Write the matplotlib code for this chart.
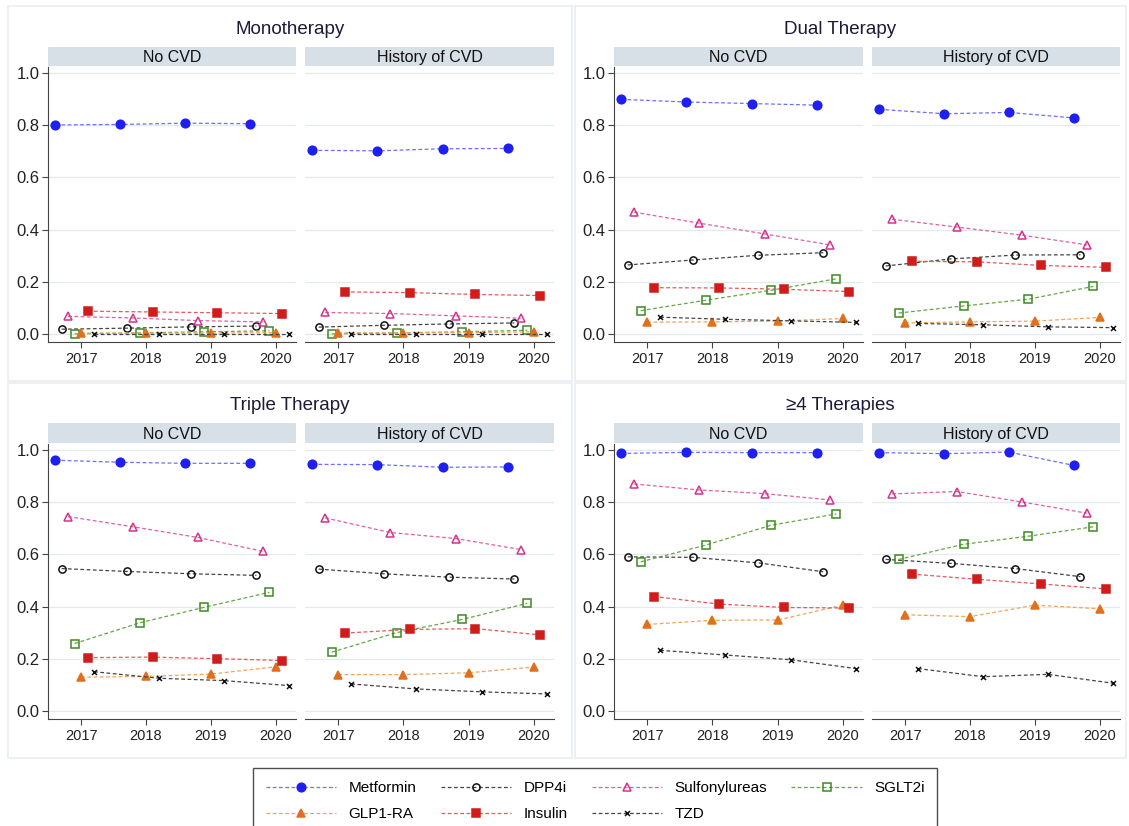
import matplotlib
matplotlib.use("Agg")
import matplotlib.pyplot as plt
from matplotlib.patches import Rectangle
from matplotlib.lines import Line2D

plt.rcParams['font.family'] = ['Liberation Sans', 'DejaVu Sans']

# data: proportion of patients on each drug class, by year
years = [2017, 2018, 2019, 2020]
drugs = ["Metformin", "DPP4i", "Sulfonylureas", "SGLT2i", "GLP1-RA", "Insulin", "TZD"]
facets = ["No CVD", "History of CVD"]
titles = ["Monotherapy", "Dual Therapy", "Triple Therapy", "\u22654 Therapies"]

# rows follow the order of `drugs`
mono_no_cvd = [
    [0.801, 0.803, 0.808, 0.806],
    [0.019, 0.023, 0.028, 0.031],
    [0.068, 0.062, 0.052, 0.047],
    [0.001, 0.005, 0.009, 0.013],
    [0.004, 0.004, 0.004, 0.006],
    [0.088, 0.085, 0.082, 0.079],
    [0.001, 0.001, 0.001, 0.001],
]
mono_cvd = [
    [0.704, 0.702, 0.710, 0.711],
    [0.027, 0.034, 0.039, 0.043],
    [0.083, 0.079, 0.070, 0.061],
    [0.001, 0.005, 0.009, 0.015],
    [0.005, 0.005, 0.006, 0.009],
    [0.162, 0.159, 0.152, 0.148],
    [0.001, 0.001, 0.001, 0.001],
]
dual_no_cvd = [
    [0.899, 0.889, 0.883, 0.877],
    [0.265, 0.284, 0.302, 0.312],
    [0.467, 0.425, 0.384, 0.342],
    [0.090, 0.130, 0.168, 0.212],
    [0.046, 0.047, 0.050, 0.060],
    [0.178, 0.177, 0.172, 0.163],
    [0.065, 0.057, 0.051, 0.045],
]
dual_cvd = [
    [0.861, 0.844, 0.849, 0.828],
    [0.261, 0.288, 0.303, 0.304],
    [0.440, 0.410, 0.379, 0.342],
    [0.081, 0.108, 0.134, 0.183],
    [0.043, 0.047, 0.050, 0.064],
    [0.279, 0.277, 0.263, 0.256],
    [0.041, 0.036, 0.028, 0.025],
]
triple_no_cvd = [
    [0.961, 0.953, 0.949, 0.949],
    [0.546, 0.535, 0.526, 0.520],
    [0.745, 0.706, 0.665, 0.612],
    [0.259, 0.338, 0.398, 0.455],
    [0.130, 0.133, 0.142, 0.170],
    [0.205, 0.207, 0.201, 0.194],
    [0.151, 0.126, 0.117, 0.098],
]
triple_cvd = [
    [0.945, 0.944, 0.934, 0.935],
    [0.544, 0.526, 0.513, 0.506],
    [0.740, 0.684, 0.661, 0.619],
    [0.226, 0.301, 0.351, 0.413],
    [0.140, 0.140, 0.147, 0.169],
    [0.299, 0.313, 0.316, 0.292],
    [0.104, 0.085, 0.074, 0.066],
]
four_no_cvd = [
    [0.987, 0.991, 0.990, 0.990],
    [0.591, 0.589, 0.568, 0.534],
    [0.870, 0.847, 0.833, 0.809],
    [0.572, 0.636, 0.712, 0.755],
    [0.332, 0.348, 0.349, 0.406],
    [0.439, 0.410, 0.397, 0.395],
    [0.233, 0.215, 0.197, 0.163],
]
four_cvd = [
    [0.990, 0.986, 0.992, 0.941],
    [0.581, 0.566, 0.546, 0.515],
    [0.832, 0.841, 0.801, 0.758],
    [0.581, 0.639, 0.670, 0.706],
    [0.369, 0.362, 0.406, 0.392],
    [0.525, 0.505, 0.487, 0.468],
    [0.163, 0.132, 0.141, 0.107],
]
panel_data = [(mono_no_cvd, mono_cvd), (dual_no_cvd, dual_cvd),
              (triple_no_cvd, triple_cvd), (four_no_cvd, four_cvd)]

# styles
offsets = [-0.4, -0.3, -0.2, -0.1, 0.0, 0.1, 0.2]
mk_colors = ["#1f1ff0", "#111111", "#d6338a", "#3d8a22", "#e0701e", "#d11c1c", "#111111"]
ln_colors = ["#6d6dff", "#444444", "#e0609f", "#62a845", "#f0a55a", "#e85858", "#444444"]
markers = ["o", "o", "^", "s", "^", "s", "x"]
filled = [True, False, False, False, True, True, True]
msizes = [6.2, 5.2, 6.2, 5.2, 6.4, 5.6, 3.6]

W, H = 1129, 826


def frac(x0, y0, x1, y1):
    return [x0 / W, 1 - y1 / H, (x1 - x0) / W, (y1 - y0) / H]


fig = plt.figure(figsize=(W / 100, H / 100), dpi=100)

col_x = [[(48, 296), (305, 554)], [(614, 863), (872, 1120)]]
row_y = [dict(top=67, bot=342, s0=47, s1=66, t=30),
         dict(top=444, bot=719, s0=423, s1=443, t=406)]
title_x = [290, 840]
quad_x = [(8, 572), (575, 1126)]
quad_y = [(6, 381), (383, 758)]

for r in range(2):
    for c in range(2):
        fig.patches.append(Rectangle((quad_x[c][0] / W, 1 - quad_y[r][1] / H),
                                     (quad_x[c][1] - quad_x[c][0]) / W,
                                     (quad_y[r][1] - quad_y[r][0]) / H,
                                     transform=fig.transFigure, fill=False,
                                     edgecolor="#e9edf0", lw=1.2, zorder=0))

for p in range(4):
    r, c = divmod(p, 2)
    ry = row_y[r]
    fig.text(title_x[c] / W, 1 - ry["t"] / H, titles[p], ha="center", va="center",
             fontsize=13.5, color="#1b1b38")
    for f in range(2):
        x0, x1 = col_x[c][f]
        # strip
        sax = fig.add_axes(frac(x0, ry["s0"], x1, ry["s1"]))
        sax.set_facecolor("#d7e0e7")
        sax.set_xticks([])
        sax.set_yticks([])
        for s in sax.spines.values():
            s.set_visible(False)
        sax.text(0.5, 0.45, facets[f], ha="center", va="center", fontsize=11.5,
                 color="#111111", transform=sax.transAxes)

        ax = fig.add_axes(frac(x0, ry["top"], x1, ry["bot"]))
        vals = panel_data[p][f]
        for i, name in enumerate(drugs):
            xs = [y + offsets[i] for y in years]
            ax.plot(xs, vals[i], linestyle=(0, (3, 2)), lw=0.9, color=ln_colors[i],
                    marker=markers[i], markersize=msizes[i],
                    markerfacecolor=mk_colors[i] if filled[i] else "none",
                    markeredgecolor=mk_colors[i],
                    markeredgewidth=1.1,
                    label=name, zorder=3 + i)
        ax.set_xlim(2016.49, 2020.31)
        ax.set_ylim(-0.03, 1.023)
        ax.set_xticks(years)
        ax.set_yticks([0, 0.2, 0.4, 0.6, 0.8, 1.0])
        ax.grid(axis="y", color="#e4e9ed", lw=0.9)
        ax.set_axisbelow(True)
        ax.spines["top"].set_visible(False)
        ax.spines["right"].set_visible(False)
        ax.spines["bottom"].set_color("#444444")
        ax.spines["left"].set_color("#444444")
        ax.tick_params(axis="x", labelsize=10.5, colors="#222222", length=4, width=0.8,
                       color="#444444", pad=3)
        ax.tick_params(axis="y", labelsize=12, colors="#222222", length=4, width=0.8,
                       color="#444444", pad=2)
        if f == 0:
            ax.set_yticklabels(["0.0", "0.2", "0.4", "0.6", "0.8", "1.0"])
        else:
            ax.spines["left"].set_visible(False)
            ax.tick_params(axis="y", left=False, labelleft=False)

# legend (column-major order so rows read across)
handles = [Line2D([], [], linestyle=(0, (3, 2)), lw=0.9, color=ln_colors[i],
                  marker=markers[i], markersize=msizes[i],
                  markerfacecolor=mk_colors[i] if filled[i] else "none",
                  markeredgecolor=mk_colors[i], markeredgewidth=1.1)
           for i in range(len(drugs))]
order = [0, 4, 1, 5, 2, 6, 3]
leg = fig.legend([handles[i] for i in order], [drugs[i] for i in order],
                 ncol=4, loc="upper left", bbox_to_anchor=(253 / W, 1 - 768 / H),
                 borderaxespad=0, fontsize=11, frameon=True, fancybox=False,
                 edgecolor="#222222", handlelength=4.6, handletextpad=0.8,
                 columnspacing=1.6, labelspacing=0.8, borderpad=0.85)
leg.get_frame().set_linewidth(1.0)

fig.savefig("out.png", dpi=100)
